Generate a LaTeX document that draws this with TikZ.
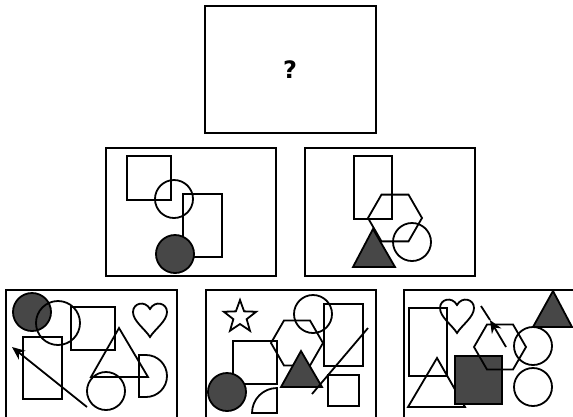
\documentclass[tikz,border=0pt]{standalone}
\usepackage{fontspec}
\setsansfont{DejaVu Sans}
\usepackage{tikz}
\usetikzlibrary{arrows.meta, calc}

\tikzset{
  shp/.style={line width=1.8pt, line join=miter},
  dark/.style={shp, fill=black!72},
  heart/.pic={
    \draw[shp] (0,0) .. controls (-5,-8) and (-17,-16) .. (-17,-25)
      .. controls (-17,-34) and (-5,-37) .. (0,-28)
      .. controls (5,-37) and (17,-34) .. (17,-25)
      .. controls (17,-16) and (5,-8) .. (0,0) -- cycle;
  }
}

\begin{document}
\begin{tikzpicture}[x=1pt, y=-1pt]
  \useasboundingbox (0,0) rectangle (573,416);
  \clip (0,0) rectangle (573,416);
  % frames
  \draw[shp] (205,6) rectangle (376,133);
  \node[font=\sffamily\bfseries\fontsize{24}{24}\selectfont] (q) at (290,70) {?};
  \draw[shp] (106,148) rectangle (276,276);
  \draw[shp] (305,148) rectangle (475,276);
  \draw[shp] (6,290) rectangle (177,430);
  \draw[shp] (206,290) rectangle (376,430);
  \draw[shp] (404,290) rectangle (580,430);

  % middle left
  \draw[shp] (127,156) rectangle (171,200);
  \draw[shp] (174,199) circle[radius=19];
  \draw[shp] (183,194) rectangle (222,257);
  \draw[dark] (175,254) circle[radius=19];

  % middle right
  \draw[shp] (354,156) rectangle (392,219);
  \draw[shp] (395,218) +(0:27) -- +(60:27) -- +(120:27) -- +(180:27)
    -- +(240:27) -- +(300:27) -- cycle;
  \draw[dark] (373,229) -- (395,267) -- (353,267) -- cycle;
  \draw[shp] (412,242) circle[radius=19];

  % bottom left
  \draw[dark] (32,312) circle[radius=19];
  \draw[shp] (58,323) circle[radius=22];
  \draw[shp] (71,307) rectangle (115,350);
  \pic at (150,337) {heart};
  \draw[shp] (23,337) rectangle (62,399);
  \draw[shp] (119,328) -- (148,377) -- (91,377) -- cycle;
  \coordinate (arrA) at (87,407);
  \coordinate (arrB) at (12,347);
  \draw[shp, -{Stealth[length=13pt, width=11pt]}] (arrA) -- (arrB);
  \draw[shp] (139,355) -- (146,355) arc[start angle=270, end angle=450, radius=21]
    -- (139,397) -- cycle;
  \draw[shp] (106,391) circle[radius=19];

  % bottom middle
  \draw[shp] (240,317) +(270:17) -- +(306:7) -- +(342:17) -- +(18:7) -- +(54:17)
    -- +(90:7) -- +(126:17) -- +(162:7) -- +(198:17) -- +(234:7) -- cycle;
  \draw[shp] (313,314) circle[radius=19];
  \draw[shp] (324,304) rectangle (363,366);
  \draw[shp] (297,343) +(0:26) -- +(60:26) -- +(120:26) -- +(180:26)
    -- +(240:26) -- +(300:26) -- cycle;
  \draw[shp] (233,341) rectangle (277,384);
  \draw[dark] (301,351) -- (322,387) -- (281,387) -- cycle;
  \coordinate (lnA) at (368,328);
  \coordinate (lnB) at (312,394);
  \draw[shp] (lnA) -- (lnB);
  \draw[shp] (328,375) rectangle (359,406);
  \draw[dark] (227,392) circle[radius=19];
  \draw[shp] (252,413) arc[start angle=180, end angle=270, radius=25]
    -- (277,413) -- cycle;

  % bottom right
  \draw[shp] (409,308) rectangle (447,376);
  \pic at (457,333) {heart};
  \draw[shp] (437,358) -- (465,407) -- (408,407) -- cycle;
  \draw[dark] (455,356) rectangle (502,404);
  \draw[shp] (500,347) +(0:26) -- +(60:26) -- +(120:26) -- +(180:26)
    -- +(240:26) -- +(300:26) -- cycle;
  \coordinate (tailR) at (506,347);
  \coordinate (tipR) at (490,320);
  \coordinate (endR) at (481,306);
  \draw[shp, -{Stealth[length=13pt, width=11pt]}] (tailR) -- (tipR);
  \draw[shp] (tipR) -- (endR);
  \draw[shp] (533,346) circle[radius=19];
  \draw[shp] (533,387) circle[radius=19];
  \draw[dark] (553,291) -- (572,327) -- (533,327) -- cycle;
\end{tikzpicture}
\end{document}
